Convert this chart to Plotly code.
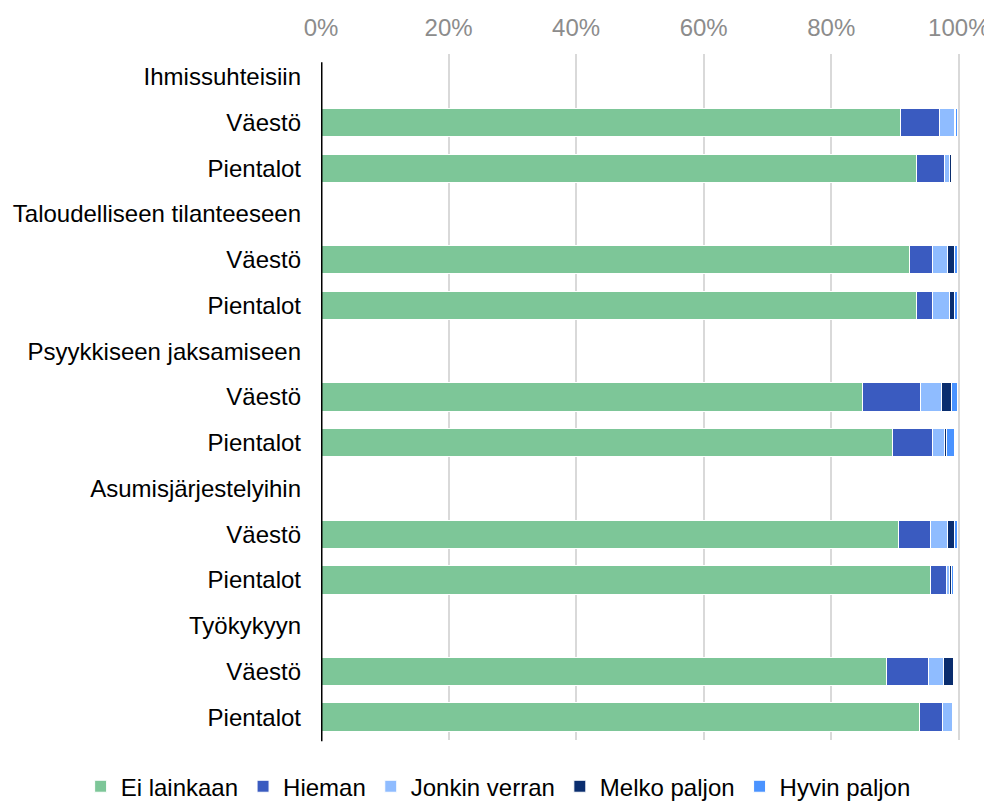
import plotly.graph_objects as go

row_labels = [
    "Ihmissuhteisiin", "Väestö", "Pientalot",
    "Taloudelliseen tilanteeseen", "Väestö", "Pientalot",
    "Psyykkiseen jaksamiseen", "Väestö", "Pientalot",
    "Asumisjärjestelyihin", "Väestö", "Pientalot",
    "Työkykyyn", "Väestö", "Pientalot",
]

series_names = ["Ei lainkaan", "Hieman", "Jonkin verran", "Melko paljon", "Hyvin paljon"]
series_colors = ["#7dc698", "#3a5bc0", "#8fbcff", "#0a2d6e", "#4a93ff"]

# values in %, header rows are None
ei_lainkaan = [None, 90.9, 93.4, None, 92.3, 93.4, None, 84.9, 89.6, None, 90.6, 95.5, None, 88.7, 93.8]
hieman = [None, 6.1, 4.4, None, 3.5, 2.4, None, 9.1, 6.2, None, 4.9, 2.5, None, 6.5, 3.7]
jonkin_verran = [None, 2.3, 0.7, None, 2.4, 2.8, None, 3.3, 1.9, None, 2.7, 0.5, None, 2.4, 1.5]
melko_paljon = [None, 0.2, 0.4, None, 1.2, 0.8, None, 1.5, 0.4, None, 1.2, 0.3, None, 1.5, 0.1]
hyvin_paljon = [None, 0.3, 0.1, None, 0.4, 0.4, None, 1.0, 1.2, None, 0.4, 0.4, None, 0.3, 0.3]

tick_vals = [0, 20, 40, 60, 80, 100]
tick_text = ["0%", "20%", "40%", "60%", "80%", "100%"]

rows = list(range(len(row_labels)))
fig = go.Figure()
for name, color, vals in zip(
    series_names, series_colors,
    [ei_lainkaan, hieman, jonkin_verran, melko_paljon, hyvin_paljon],
):
    fig.add_trace(go.Bar(
        x=vals, y=rows, orientation="h", name=name,
        marker=dict(color=color, line=dict(color="white", width=1)),
        width=0.62,
    ))

fig.add_shape(type="line", xref="x", yref="paper", x0=0, x1=0, y0=-0.002, y1=0.988,
              line=dict(color="black", width=3))

# the page adds an 8px body margin, so the figure is sized to the remaining window
fig.update_layout(
    barmode="stack",
    width=984, height=793,
    margin=dict(l=313, r=30, t=46, b=61, autoexpand=False),
    plot_bgcolor="white", paper_bgcolor="white",
    font=dict(family="Liberation Sans, Arial, sans-serif", size=24, color="black"),
    legend=dict(orientation="h", x=-0.375, xanchor="left",
                y=-0.068, yanchor="middle",
                font=dict(size=24), itemwidth=30, traceorder="normal"),
    xaxis=dict(side="top", range=[0, 100.5], tickvals=tick_vals, ticktext=tick_text,
               showgrid=True, gridcolor="#d9d9d9", gridwidth=2, zeroline=False,
               tickfont=dict(color="#8c8c8c", size=24), ticks="", ticklen=0,
               ticklabelstandoff=12, automargin=False),
    yaxis=dict(tickvals=rows, ticktext=row_labels,
               range=[len(rows) - 0.5, -0.5], showgrid=False, zeroline=False,
               ticks="", ticklabelstandoff=19, automargin=False),
)

fig.write_html("out.html")
